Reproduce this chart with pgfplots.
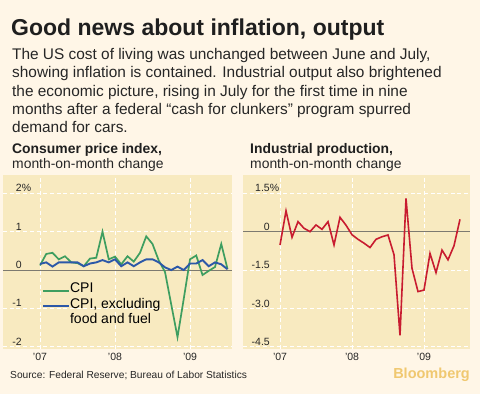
\documentclass[border=0pt]{standalone}
\usepackage{fontspec}
\setmainfont{Liberation Sans}
\usepackage{pgfplots}
\pgfplotsset{compat=1.18}
\definecolor{bgcream}{RGB}{255,246,231}
\definecolor{plotbg}{RGB}{248,234,192}
\definecolor{cpigreen}{RGB}{62,158,96}
\definecolor{coreblue}{RGB}{44,88,168}
\definecolor{ipred}{RGB}{200,28,48}
\definecolor{zerogray}{RGB}{125,122,112}
\definecolor{bbgold}{RGB}{240,200,112}
\pgfplotsset{
  panel/.style={
    scale only axis, anchor=south west,
    axis background/.style={fill=plotbg},
    axis line style={draw=none},
    major tick length=0pt,
    xtick={0,12,24}, xticklabels={{'07},{'08},{'09}},
    grid=major,
    grid style={white, line width=1bp, dash pattern=on 4bp off 2.7bp},
    extra y ticks={0}, extra y tick labels={},
    extra y tick style={grid style={solid, zerogray, line width=1bp}},
    tick label style={font=\fontsize{10.5bp}{12bp}\selectfont, text=black!85},
    xticklabel style={anchor=north, inner sep=0pt, yshift=-4bp},
    yticklabel style={anchor=base east, inner sep=0pt, yshift=1.5bp},
    clip=true,
  }
}
\begin{document}
\begin{tikzpicture}[x=1bp,y=1bp]
\useasboundingbox (0,0) rectangle (480,394);
\fill[bgcream] (0,0) rectangle (480,394);
% Title and text
\node[anchor=base west, inner sep=0, font=\fontsize{23bp}{27bp}\selectfont\bfseries, text=black!88] at (11,359) {Good news about inflation, output};
\begin{scope}[every node/.style={anchor=base west, inner sep=0, font=\fontsize{15.4bp}{18bp}\selectfont, text=black!85}]
\node at (12,334.7) {The US cost of living was unchanged between June and July,};
\node at (12,316.3) {showing inflation is contained. Industrial output also brightened};
\node at (12,297.9) {the economic picture, rising in July for the first time in nine};
\node at (12,279.5) {months after a federal “cash for clunkers” program spurred};
\node at (12,261.1) {demand for cars.};
\end{scope}
% Panel titles
\node[anchor=base west, inner sep=0, font=\fontsize{13.9bp}{15bp}\selectfont\bfseries, text=black!88] at (12,240.5) {Consumer price index,};
\node[anchor=base west, inner sep=0, font=\fontsize{13.9bp}{15bp}\selectfont, text=black!85] at (12,226) {month-on-month change};
\node[anchor=base west, inner sep=0, font=\fontsize{13.9bp}{15bp}\selectfont\bfseries, text=black!88] at (250,240.5) {Industrial production,};
\node[anchor=base west, inner sep=0, font=\fontsize{13.9bp}{15bp}\selectfont, text=black!85] at (250,226) {month-on-month change};
% Source and logo
\node[anchor=base west, inner sep=0, font=\fontsize{10.2bp}{12bp}\selectfont, text=black!85] at (10,16) {Source: Federal Reserve; Bureau of Labor Statistics};
\node[anchor=base east, inner sep=0, font=\fontsize{14.5bp}{16bp}\selectfont\bfseries, text=bbgold] at (470,16) {Bloomberg};

% Left panel: CPI
\begin{axis}[panel,
  at={(3bp,45bp)}, width=229bp, height=174bp,
  xmin=-5.92, xmax=30.72, ymin=-2.06, ymax=2.48,
  ytick={-2,-1,0,1,2}, yticklabels={-2,-1,0,1,2\rlap{\%}},
  yticklabel style={xshift=19bp},
  legend style={draw=none, fill=none, at={(axis cs:0.32,-0.33)}, anchor=north west,
    font=\fontsize{14bp}{15.5bp}\selectfont, inner sep=0pt, row sep=0pt,
    cells={anchor=west},
    nodes={inner sep=0pt, text height=10bp, text depth=5.5bp},
    /tikz/every even column/.append style={column sep=8bp}},
  legend image code/.code={\draw[#1] (0bp,0bp) -- (26bp,0bp);},
]
\addplot[cpigreen, line width=1.7bp] coordinates {
(0,0.12) (1,0.42) (2,0.45) (3,0.28) (4,0.36) (5,0.20) (6,0.18) (7,0.10)
(8,0.30) (9,0.32) (10,1.00) (11,0.28) (12,0.35) (13,0.15) (14,0.36) (15,0.22)
(16,0.45) (17,0.88) (18,0.68) (19,0.25) (20,-0.05) (21,-0.90) (22,-1.75) (23,-0.75)
(24,0.28) (25,0.38) (26,-0.13) (27,-0.02) (28,0.08) (29,0.68) (30,0.03)};
\addlegendentry{CPI}
\addplot[coreblue, line width=1.9bp] coordinates {
(0,0.16) (1,0.20) (2,0.09) (3,0.20) (4,0.20) (5,0.20) (6,0.20) (7,0.10)
(8,0.17) (9,0.20) (10,0.26) (11,0.20) (12,0.28) (13,0.10) (14,0.20) (15,0.10)
(16,0.20) (17,0.28) (18,0.28) (19,0.20) (20,0.07) (21,0.00) (22,0.09) (23,0.00)
(24,0.17) (25,0.17) (26,0.26) (27,0.10) (28,0.20) (29,0.15) (30,0.02)};
\addlegendentry{CPI, excluding}
\addlegendimage{empty legend}
\addlegendentry{food and fuel}
\end{axis}

% Right panel: Industrial production
\begin{axis}[panel,
  at={(243bp,45bp)}, width=227bp, height=174bp,
  xmin=-6.17, xmax=31.67, ymin=-4.58, ymax=2.21,
  ytick={-4.5,-3,-1.5,0,1.5}, yticklabels={-4.5,-3.0,-1.5,0,1.5\rlap{\%}},
  yticklabel style={xshift=27bp},
]
\addplot[ipred, line width=1.6bp] coordinates {
(0,-0.52) (1,0.81) (2,-0.22) (3,0.39) (4,0.13) (5,0.00) (6,0.26) (7,0.09)
(8,0.39) (9,-0.52) (10,0.56) (11,0.25) (12,-0.12) (13,-0.30) (14,-0.45) (15,-0.62)
(16,-0.30) (17,-0.20) (18,-0.13) (19,-0.90) (20,-4.05) (21,1.30) (22,-1.43) (23,-2.34)
(24,-2.28) (25,-0.85) (26,-1.60) (27,-0.72) (28,-1.10) (29,-0.55) (30,0.48)};
\end{axis}
\end{tikzpicture}
\end{document}
